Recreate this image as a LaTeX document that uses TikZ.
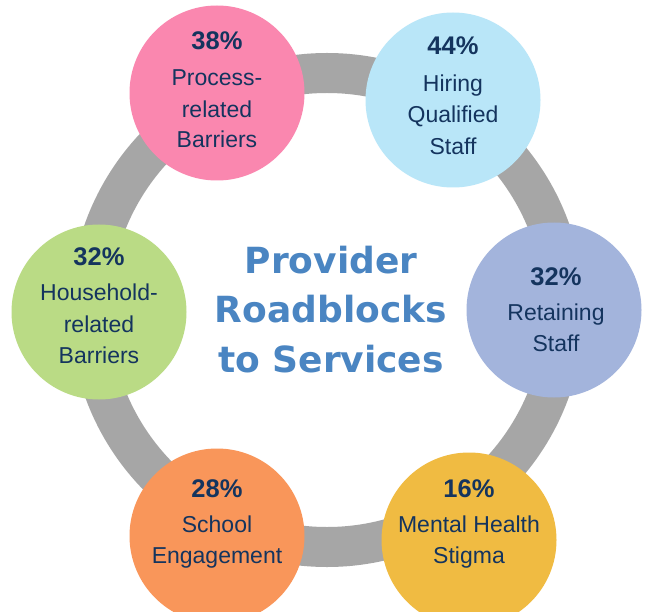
\documentclass[tikz,border=0pt]{standalone}
\usepackage{fontspec}
\setmainfont{Liberation Sans}
\newfontfamily\titlefont{DejaVu Sans}
\definecolor{ringgray}{RGB}{166,166,166}
\definecolor{cpink}{RGB}{250,135,175}
\definecolor{cblue}{RGB}{185,230,248}
\definecolor{clav}{RGB}{163,180,220}
\definecolor{cgreen}{RGB}{186,219,133}
\definecolor{corange}{RGB}{249,150,90}
\definecolor{cyellow}{RGB}{240,187,66}
\definecolor{navy}{RGB}{20,52,94}
\definecolor{titleblue}{RGB}{74,133,194}
\tikzset{
  bubble/.style={circle, fill=#1, draw=none, minimum size=175pt, inner sep=0pt},
  pct/.style={anchor=base, text=navy, inner sep=0pt, font=\fontsize{25.5}{30}\selectfont\bfseries},
  txt/.style={anchor=base, text=navy, inner sep=0pt, font=\fontsize{23}{28}\selectfont},
  ttl/.style={anchor=base, text=titleblue, inner sep=0pt, font=\titlefont\bfseries\fontsize{36}{42}\selectfont}
}
\begin{document}
\begin{tikzpicture}[x=1pt,y=-1pt]
\useasboundingbox (0,0) rectangle (647,612);
\fill[white] (0,0) rectangle (647,612);
% ring
\draw[ringgray, line width=40pt] (327,310) circle (237pt);
% bubbles
\node[bubble=cpink] (c1) at (217,93) {};
\node[bubble=cblue] (c2) at (453,100) {};
\node[bubble=clav] (c3) at (554,310) {};
\node[bubble=cgreen] (c4) at (99,312) {};
\node[bubble=corange] (c5) at (217,536) {};
\node[bubble=cyellow] (c6) at (469,540) {};
% texts
\node[pct] (p1) at (217,50) {38\%};
\node[txt] (t1a) at (217,86) {Process-};
\node[txt] (t1b) at (217,118) {related};
\node[txt] (t1c) at (217,148) {Barriers};
\node[pct] (p2) at (453,55) {44\%};
\node[txt] (t2a) at (453,92) {Hiring};
\node[txt] (t2b) at (453,123) {Qualified};
\node[txt] (t2c) at (453,155) {Staff};
\node[pct] (p3) at (556,285) {32\%};
\node[txt] (t3a) at (556,320) {Retaining};
\node[txt] (t3b) at (556,351) {Staff};
\node[pct] (p4) at (99,265) {32\%};
\node[txt] (t4a) at (99,300) {Household-};
\node[txt] (t4b) at (99,332) {related};
\node[txt] (t4c) at (99,363) {Barriers};
\node[pct] (p5) at (217,497) {28\%};
\node[txt] (t5a) at (217,532) {School};
\node[txt] (t5b) at (217,563) {Engagement};
\node[pct] (p6) at (469,497) {16\%};
\node[txt] (t6a) at (469,532) {Mental Health};
\node[txt] (t6b) at (469,563) {Stigma};
% title
\node[ttl] (h1) at (331,273) {Provider};
\node[ttl] (h2) at (331,322) {Roadblocks};
\node[ttl] (h3) at (331,372) {to Services};
\end{tikzpicture}
\end{document}
